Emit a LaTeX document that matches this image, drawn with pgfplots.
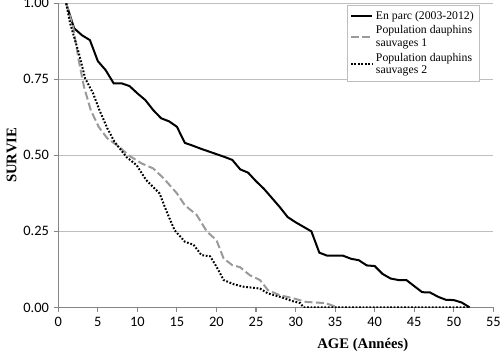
\documentclass[border=0pt]{standalone}
\usepackage{pgfplots}
\pgfplotsset{compat=1.18}
\usepackage{fontspec}
\setmainfont{Liberation Serif}
\newfontfamily\carlito{Carlito}
\definecolor{axisgray}{HTML}{868686}
\definecolor{gridgray}{HTML}{BEBEBE}
\definecolor{dashgray}{HTML}{9A9A9A}
\begin{document}
\begin{tikzpicture}
\begin{axis}[
  name=ax,
  scale only axis,
  width=326.25pt, height=228pt,
  xmin=0, xmax=55, ymin=0, ymax=1,
  xtick={0,5,...,55},
  ytick={0,0.25,0.5,0.75,1},
  yticklabel style={/pgf/number format/.cd,fixed,fixed zerofill,precision=2},
  /pgf/number format/assume math mode=true,
  tick label style={font=\carlito\fontsize{10.8}{12}\selectfont},
  axis x line*=bottom, axis y line*=left,
  axis line style={axisgray, line width=0.8pt},
  every tick/.style={axisgray, line width=0.8pt},
  tick align=outside,
  major tick length=3.5pt,
  ymajorgrids,
  grid style={gridgray, line width=0.8pt},
  xlabel={AGE (Années)},
  ylabel={SURVIE},
  label style={font=\bfseries\fontsize{11}{13}\selectfont},
  xlabel style={at={(rel axis cs:0.7,0)}, anchor=center, yshift=-28pt},
  ylabel style={at={(rel axis cs:0,0.5)}, anchor=center, yshift=35pt},
  legend style={at={(rel axis cs:1,1)}, anchor=north east, xshift=-10.5pt, yshift=-1.5pt,
    draw=gridgray, font=\fontsize{8.8}{9.3}\selectfont, cells={align=left, anchor=west},
    inner sep=2pt, row sep=-0.5pt},
  legend image code/.code={\draw[#1] (0pt,0pt) -- (16pt,0pt);},
]
\addplot[black, line width=1.5pt] coordinates {
(1,1.00) (2,0.918) (3,0.895) (4,0.879) (5,0.81) (6,0.78) (7,0.737) (8,0.737) (9,0.728) (10,0.704)
(11,0.682) (12,0.649) (13,0.622) (14,0.612) (15,0.594) (16,0.541) (17,0.532) (18,0.522) (19,0.513) (20,0.504)
(21,0.495) (22,0.485) (23,0.454) (24,0.443) (25,0.415) (26,0.39) (27,0.36) (28,0.33) (29,0.297) (30,0.28)
(31,0.265) (32,0.25) (33,0.18) (34,0.17) (35,0.17) (36,0.17) (37,0.16) (38,0.155) (39,0.138) (40,0.136)
(41,0.11) (42,0.095) (43,0.09) (44,0.09) (45,0.07) (46,0.05) (47,0.049) (48,0.035) (49,0.025) (50,0.024)
(51,0.016) (52,0.0)
};
\addlegendentry{En parc (2003-2012)}
\addplot[dashgray, line width=1.5pt, dash pattern=on 6pt off 2.5pt] coordinates {
(1,1.0) (1.9,0.92) (2.6,0.81) (3.25,0.726) (4.1,0.649) (5.1,0.594) (6.2,0.556) (7.7,0.528) (8.9,0.50)
(10.5,0.474) (12,0.457) (13.3,0.425) (15,0.375) (16,0.336) (17.5,0.304) (18.8,0.249) (20,0.221)
(20.9,0.161) (22,0.139) (23,0.132) (24.2,0.106) (25.5,0.09) (26.5,0.057) (28,0.04) (29.7,0.03)
(31.3,0.018) (33.8,0.014) (35.3,0)
};
\addlegendentry{Population dauphins\\sauvages 1}
\addplot[black, line width=1.5pt, dash pattern=on 1.3pt off 1.3pt] coordinates {
(1,1.0) (1.5,0.934) (2.6,0.836) (3.4,0.753) (4.4,0.704) (5.2,0.649) (6.2,0.589) (7.1,0.545) (8.6,0.495)
(9.9,0.468) (11.1,0.419) (12.8,0.375) (13.7,0.315) (14.7,0.254) (16,0.216) (17.1,0.206) (18.1,0.172)
(19.2,0.168) (20,0.134) (20.9,0.09) (22.2,0.076) (23.4,0.068) (25.5,0.062) (26.5,0.046) (28,0.035)
(29.7,0.02) (30.6,0.014) (31,0) (52,0)
};
\addlegendentry{Population dauphins\\sauvages 2}
\end{axis}
\pgfresetboundingbox
\path[use as bounding box] ([shift={(-43.7pt,-38pt)}]ax.south west) rectangle ([shift={(5pt,2.5pt)}]ax.north east);
\end{tikzpicture}
\end{document}
